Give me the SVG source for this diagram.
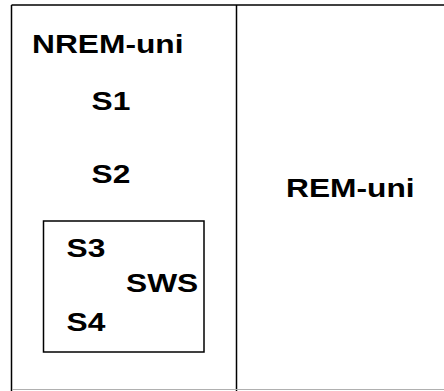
<svg xmlns="http://www.w3.org/2000/svg" width="444" height="391" viewBox="0 0 444 391">
  <style>
    .frame { fill: none; stroke: #000; stroke-width: 1.5; }
    .label { font-family: "Liberation Sans", Arial, sans-serif; font-weight: bold; font-size: 26px; fill: #000; }
  </style>
  <rect width="444" height="391" fill="#fff"/>
  <!-- outer frame and divider -->
  <g id="frame">
    <line class="frame" x1="11.5" y1="5" x2="444" y2="5"/>
    <line class="frame" x1="11.5" y1="5" x2="11.5" y2="391"/>
    <line class="frame" x1="236.5" y1="5" x2="236.5" y2="391"/>
    <line x1="12" y1="389.5" x2="444" y2="389.5" stroke="#b0b0b0" stroke-width="1"/>
  </g>
  <!-- labels are set slightly wide: scale(1.22,1) about each anchor -->
  <g id="nrem">
    <text class="label" transform="translate(32,53) scale(1.22,1)">NREM-uni</text>
  </g>
  <g id="s1"><text class="label" transform="translate(91.5,110) scale(1.22,1)">S1</text></g>
  <g id="s2"><text class="label" transform="translate(91.5,183) scale(1.22,1)">S2</text></g>
  <g id="sws">
    <rect class="frame" x="43.5" y="221" width="160.5" height="131" stroke-width="1.2"/>
    <text class="label" transform="translate(126,292) scale(1.22,1)">SWS</text>
  </g>
  <g id="s3"><text class="label" transform="translate(66.5,257) scale(1.22,1)">S3</text></g>
  <g id="s4"><text class="label" transform="translate(66.5,331) scale(1.22,1)">S4</text></g>
  <g id="rem">
    <text class="label" transform="translate(286,197) scale(1.22,1)">REM-uni</text>
  </g>
</svg>
